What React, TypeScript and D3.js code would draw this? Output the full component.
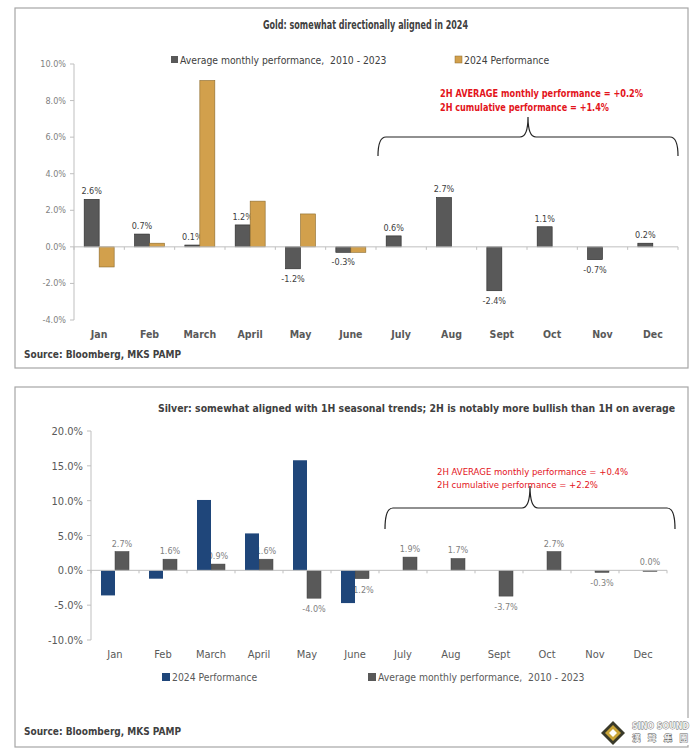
import { useEffect, useRef } from 'react'
import * as d3 from 'd3'

const MONTHS = ['Jan', 'Feb', 'March', 'April', 'May', 'June', 'July', 'Aug', 'Sept', 'Oct', 'Nov', 'Dec']

// gold: % monthly
const GOLD_AVG = [2.6, 0.7, 0.1, 1.2, -1.2, -0.3, 0.6, 2.7, -2.4, 1.1, -0.7, 0.2]
const GOLD_2024 = [-1.1, 0.2, 9.1, 2.5, 1.8, -0.3]
const GOLD_TICKS = [-4, -2, 0, 2, 4, 6, 8, 10]

// silver: % monthly
const SILVER_AVG = [2.7, 1.6, 0.9, 1.6, -4.0, -1.2, 1.9, 1.7, -3.7, 2.7, -0.3, 0.0]
const SILVER_2024 = [-3.6, -1.2, 10.1, 5.3, 15.8, -4.7]
const SILVER_TICKS = [-10, -5, 0, 5, 10, 15, 20]

const FONT = '"DejaVu Sans Condensed", "Open Sans", sans-serif'
const RED = '#e3141b'
const DARK = '#595959'
const GOLD = '#d2a04c'
const BLUE = '#1f467a'

type G = d3.Selection<SVGGElement, unknown, null, undefined>

function brace(g: G, x0: number, x1: number, yEnd: number, yTop: number, yTip: number) {
  const xm = (x0 + x1) / 2
  const r = 8
  const p = d3.path()
  p.moveTo(x0, yEnd)
  p.quadraticCurveTo(x0, yTop, x0 + r, yTop)
  p.lineTo(xm - r, yTop)
  p.quadraticCurveTo(xm, yTop, xm, yTip)
  p.quadraticCurveTo(xm, yTop, xm + r, yTop)
  p.lineTo(x1 - r, yTop)
  p.quadraticCurveTo(x1, yTop, x1, yEnd)
  g.append('path').attr('d', p.toString()).attr('fill', 'none').attr('stroke', '#222').attr('stroke-width', 1.2)
}

export default function App() {
  const svgRef = useRef<SVGSVGElement>(null)

  useEffect(() => {
    if (!svgRef.current) return
    const svg = d3.select(svgRef.current)
    svg.selectAll('*').remove()
    svg.append('rect').attr('width', 700).attr('height', 755).attr('fill', '#fff')

    // ---------- GOLD panel ----------
    const gp = svg.append('g')
    gp.append('rect').attr('x', 15).attr('y', 8).attr('width', 673).attr('height', 360)
      .attr('fill', '#fff').attr('stroke', '#a6a6a6').attr('stroke-width', 1.2)

    gp.append('text').attr('x', 263).attr('y', 29)
      .attr('font-family', FONT).attr('font-size', 12.5).attr('font-weight', 'bold').attr('fill', '#404040')
      .attr('textLength', 205).attr('lengthAdjust', 'spacingAndGlyphs')
      .text('Gold: somewhat directionally aligned in 2024')

    const gx = d3.scaleBand<string>().domain(MONTHS).range([74, 678])
    const gy = d3.scaleLinear().domain([-4, 10]).range([320, 64])
    const gBw = 15

    // y axis
    gp.append('line').attr('x1', 74).attr('x2', 74).attr('y1', gy(-4)).attr('y2', gy(10)).attr('stroke', '#bfbfbf')
    GOLD_TICKS.forEach(t => {
      gp.append('line').attr('x1', 70).attr('x2', 74).attr('y1', gy(t)).attr('y2', gy(t)).attr('stroke', '#bfbfbf')
      gp.append('text').attr('x', 66).attr('y', gy(t) + 3).attr('text-anchor', 'end')
        .attr('font-family', FONT).attr('font-size', 9).attr('fill', '#7f7f7f').text(`${t.toFixed(1)}%`)
    })

    // bars
    MONTHS.forEach((m, i) => {
      const c = gx(m)! + gx.bandwidth() / 2
      const v = GOLD_AVG[i]
      gp.append('rect').attr('x', c - gBw).attr('width', gBw)
        .attr('y', gy(Math.max(0, v))).attr('height', Math.max(1, Math.abs(gy(v) - gy(0))))
        .attr('fill', DARK).attr('stroke', '#262626').attr('stroke-width', 0.6)
      gp.append('text').attr('x', c - gBw / 2).attr('y', v >= 0 ? gy(v) - 5 : gy(v) + 13)
        .attr('text-anchor', 'middle').attr('font-family', FONT).attr('font-size', 9).attr('fill', '#404040')
        .text(`${v.toFixed(1)}%`)
      if (i < GOLD_2024.length) {
        const w = GOLD_2024[i]
        gp.append('rect').attr('x', c).attr('width', gBw)
          .attr('y', gy(Math.max(0, w))).attr('height', Math.max(1, Math.abs(gy(w) - gy(0))))
          .attr('fill', GOLD).attr('stroke', '#8a6a2c').attr('stroke-width', 0.6)
      }
      gp.append('text').attr('x', c).attr('y', 338).attr('text-anchor', 'middle')
        .attr('font-family', FONT).attr('font-size', 10.5).attr('font-weight', 'bold').attr('fill', DARK).text(m)
    })

    // x axis at zero
    gp.append('line').attr('x1', 74).attr('x2', 678).attr('y1', gy(0)).attr('y2', gy(0)).attr('stroke', '#bfbfbf')
    d3.range(13).forEach(k => {
      const xx = 74 + k * gx.step()
      gp.append('line').attr('x1', xx).attr('x2', xx).attr('y1', gy(0)).attr('y2', gy(0) + 3).attr('stroke', '#bfbfbf')
    })

    // legend
    gp.append('rect').attr('x', 171).attr('y', 56).attr('width', 7).attr('height', 7).attr('fill', DARK)
    gp.append('text').attr('x', 180).attr('y', 63.5).attr('font-family', FONT).attr('font-size', 10.3).attr('fill', '#404040')
      .attr('xml:space', 'preserve').text('Average monthly performance,  2010 - 2023')
    gp.append('rect').attr('x', 455).attr('y', 56).attr('width', 7).attr('height', 7).attr('fill', GOLD).attr('stroke', '#8a6a2c').attr('stroke-width', 0.5)
    gp.append('text').attr('x', 464).attr('y', 63.5).attr('font-family', FONT).attr('font-size', 10.3).attr('fill', '#404040')
      .text('2024 Performance')

    // annotation
    gp.append('text').attr('x', 440).attr('y', 97).attr('font-family', FONT).attr('font-size', 10.5).attr('font-weight', 'bold')
      .attr('fill', RED).attr('textLength', 203).attr('lengthAdjust', 'spacingAndGlyphs')
      .text('2H AVERAGE monthly performance = +0.2%')
    gp.append('text').attr('x', 440).attr('y', 111).attr('font-family', FONT).attr('font-size', 10.5).attr('font-weight', 'bold')
      .attr('fill', RED).attr('textLength', 169).attr('lengthAdjust', 'spacingAndGlyphs')
      .text('2H cumulative performance = +1.4%')
    brace(gp, gx('July')! + 2, 678, 156, 137, 117)

    gp.append('text').attr('x', 24).attr('y', 358).attr('font-family', FONT).attr('font-size', 10).attr('font-weight', 'bold')
      .attr('fill', '#404040').text('Source: Bloomberg, MKS PAMP')

    // ---------- SILVER panel ----------
    const sp = svg.append('g')
    sp.append('rect').attr('x', 15).attr('y', 387).attr('width', 673).attr('height', 360)
      .attr('fill', '#fff').attr('stroke', '#a6a6a6').attr('stroke-width', 1.2)

    sp.append('text').attr('x', 675).attr('y', 412).attr('text-anchor', 'end')
      .attr('font-family', FONT).attr('font-size', 10.4).attr('font-weight', 'bold').attr('fill', '#404040')
      .text('Silver: somewhat aligned with 1H seasonal trends; 2H is notably more bullish than 1H on average')

    const sx = d3.scaleBand<string>().domain(MONTHS).range([91, 667])
    const sy = d3.scaleLinear().domain([-10, 20]).range([640, 431])
    const sBw = 14

    sp.append('line').attr('x1', 91).attr('x2', 91).attr('y1', sy(-10)).attr('y2', sy(20)).attr('stroke', '#bfbfbf')
    SILVER_TICKS.forEach(t => {
      sp.append('line').attr('x1', 87).attr('x2', 91).attr('y1', sy(t)).attr('y2', sy(t)).attr('stroke', '#bfbfbf')
      sp.append('text').attr('x', 83).attr('y', sy(t) + 4).attr('text-anchor', 'end')
        .attr('font-family', FONT).attr('font-size', 11).attr('fill', DARK).text(`${t.toFixed(1)}%`)
    })

    // labels first so the blue bars cover them, as in the original
    MONTHS.forEach((m, i) => {
      const c = sx(m)! + sx.bandwidth() / 2
      const v = SILVER_AVG[i]
      sp.append('text').attr('x', c + sBw / 2).attr('y', v >= 0 ? sy(v) - 5 : sy(v) + 14)
        .attr('text-anchor', 'middle').attr('font-family', FONT).attr('font-size', 9).attr('fill', '#7f7f7f')
        .text(`${v.toFixed(1)}%`)
    })
    MONTHS.forEach((m, i) => {
      const c = sx(m)! + sx.bandwidth() / 2
      const v = SILVER_AVG[i]
      sp.append('rect').attr('x', c).attr('width', sBw)
        .attr('y', sy(Math.max(0, v))).attr('height', Math.max(1, Math.abs(sy(v) - sy(0))))
        .attr('fill', DARK).attr('stroke', '#404040').attr('stroke-width', 0.5)
      if (i < SILVER_2024.length) {
        const w = SILVER_2024[i]
        sp.append('rect').attr('x', c - sBw).attr('width', sBw)
          .attr('y', sy(Math.max(0, w))).attr('height', Math.max(1, Math.abs(sy(w) - sy(0))))
          .attr('fill', BLUE)
      }
      sp.append('text').attr('x', c).attr('y', 658).attr('text-anchor', 'middle')
        .attr('font-family', FONT).attr('font-size', 11).attr('fill', DARK).text(m)
    })

    sp.append('line').attr('x1', 91).attr('x2', 667).attr('y1', sy(0)).attr('y2', sy(0)).attr('stroke', '#bfbfbf')
    d3.range(13).forEach(k => {
      const xx = 91 + k * sx.step()
      sp.append('line').attr('x1', xx).attr('x2', xx).attr('y1', sy(0)).attr('y2', sy(0) + 3).attr('stroke', '#bfbfbf')
    })

    // legend
    sp.append('rect').attr('x', 162).attr('y', 673).attr('width', 8).attr('height', 8).attr('fill', BLUE)
    sp.append('text').attr('x', 172).attr('y', 681).attr('font-family', FONT).attr('font-size', 10.3).attr('fill', DARK)
      .text('2024 Performance')
    sp.append('rect').attr('x', 368).attr('y', 673).attr('width', 8).attr('height', 8).attr('fill', DARK)
    sp.append('text').attr('x', 378).attr('y', 681).attr('font-family', FONT).attr('font-size', 10.3).attr('fill', DARK)
      .attr('xml:space', 'preserve').text('Average monthly performance,  2010 - 2023')

    // annotation
    sp.append('text').attr('x', 437).attr('y', 475).attr('font-family', FONT).attr('font-size', 9.5)
      .attr('fill', RED).text('2H AVERAGE monthly performance = +0.4%')
    sp.append('text').attr('x', 437).attr('y', 488).attr('font-family', FONT).attr('font-size', 9.5)
      .attr('fill', RED).text('2H cumulative performance = +2.2%')
    brace(sp, sx('July')! + 6, 675, 529, 508, 486)

    sp.append('text').attr('x', 24).attr('y', 735).attr('font-family', FONT).attr('font-size', 10).attr('font-weight', 'bold')
      .attr('fill', '#404040').text('Source: Bloomberg, MKS PAMP')

    // logo
    const lg = svg.append('g').attr('transform', 'translate(613,733)')
    lg.append('rect').attr('x', 14).attr('y', -15).attr('width', 78).attr('height', 27).attr('fill', '#fff')
    lg.append('path').attr('d', 'M0,-12 L12,0 L0,12 L-12,0 Z').attr('fill', '#3a3a2a')
    lg.append('path').attr('d', 'M0,-8 L8,0 L0,8 L-8,0 Z').attr('fill', '#c9a437')
    lg.append('path').attr('d', 'M0,-4 L4,0 L0,4 L-4,0 Z').attr('fill', '#fff')
    lg.append('text').attr('x', 19).attr('y', -4).attr('font-family', FONT).attr('font-size', 9.5)
      .attr('font-weight', 'bold').attr('fill', '#f0f0f0').attr('stroke', '#666').attr('stroke-width', 0.8)
      .attr('paint-order', 'stroke').attr('textLength', 57).attr('lengthAdjust', 'spacingAndGlyphs').text('SINO SOUND')
    lg.append('text').attr('x', 19).attr('y', 8).attr('font-family', '"Noto Sans CJK TC", sans-serif').attr('font-size', 8.5)
      .attr('font-weight', 'bold').attr('fill', '#f0f0f0').attr('stroke', '#666').attr('stroke-width', 0.8)
      .attr('paint-order', 'stroke').attr('textLength', 56).attr('lengthAdjust', 'spacing').text('漢聲集團')
  }, [])

  return (
    <svg ref={svgRef} width={700} height={755}
      style={{ position: 'absolute', left: 0, top: 0, display: 'block' }} />
  )
}
